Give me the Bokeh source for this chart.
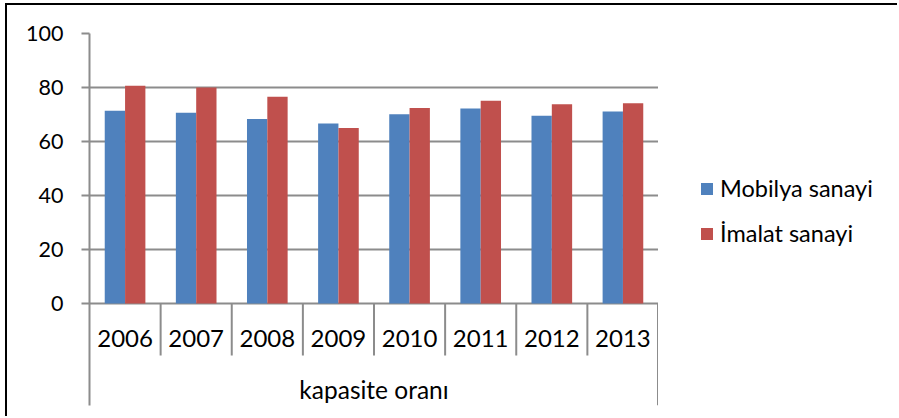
from bokeh.plotting import figure
from bokeh.layouts import row
from bokeh.models import (ColumnDataSource, FactorRange, Range1d, FixedTicker,
                          Legend, LegendItem)
from bokeh.transform import dodge
from bokeh.core.properties import value
from bokeh.embed import file_html
from bokeh.resources import INLINE

# ---- data ----
years = ["2006", "2007", "2008", "2009", "2010", "2011", "2012", "2013"]
mobilya = [71.4, 70.6, 68.3, 66.7, 70.1, 72.2, 69.5, 71.1]
imalat = [80.6, 80.0, 76.6, 65.0, 72.4, 75.1, 73.8, 74.2]
series_names = ["Mobilya sanayi", "İmalat sanayi"]
group_label = "kapasite oranı"
y_ticks = [0, 20, 40, 60, 80, 100]

# ---- style ----
BLUE = "#4F81BD"
RED = "#C0504D"
GRAY = "#8C8C8C"
FONT = "Lato"

src = ColumnDataSource(dict(year=years, mob=mobilya, ima=imalat))

x_range = FactorRange(*years, factor_padding=0, range_padding=0)
p = figure(width=651, height=413, x_range=x_range, y_range=Range1d(-37.8, 100),
           output_backend="svg", toolbar_location=None, x_axis_location=None,
           min_border_left=82, min_border_right=0, min_border_top=28,
           min_border_bottom=13)
p.outline_line_color = None
p.background_fill_color = "white"
p.border_fill_color = "white"
p.xgrid.visible = False
p.ygrid.ticker = FixedTicker(ticks=y_ticks)
p.ygrid.grid_line_color = GRAY
p.ygrid.grid_line_width = 2

yax = p.yaxis[0]
yax.ticker = FixedTicker(ticks=y_ticks)
yax.axis_line_color = GRAY
yax.axis_line_width = 2
yax.major_tick_line_color = GRAY
yax.major_tick_line_width = 2
yax.major_tick_in = 0
yax.major_tick_out = 8
yax.minor_tick_line_color = None
yax.major_label_standoff = 18
yax.major_label_text_font = FONT
yax.major_label_text_font_size = "21.5px"
yax.major_label_text_color = "black"

bw = 1 / 3.5
r1 = p.vbar(x=dodge("year", -bw / 2, range=x_range), top="mob", width=bw,
            bottom=0, source=src, fill_color=BLUE, line_color=None)
r2 = p.vbar(x=dodge("year", bw / 2, range=x_range), top="ima", width=bw,
            bottom=0, source=src, fill_color=RED, line_color=None)

# category separators (boundaries between categories, synthetic coordinates)
n = len(years)
inner = list(range(1, n))
p.segment(x0=inner, y0=[0] * len(inner), x1=inner, y1=[-19.3] * len(inner),
          line_color=GRAY, line_width=2)
p.segment(x0=[n], y0=[0], x1=[n], y1=[-37.8], line_color=GRAY, line_width=3)

# category labels
p.text(x="year", y=-13, text="year", source=src, text_font=value(FONT),
       text_font_size="24px", text_align="center", text_baseline="middle",
       text_color="black")
p.text(x=[n / 2], y=[-32.0], text=[group_label], text_font=value(FONT),
       text_font_size="24.5px", text_align="center", text_baseline="middle",
       text_color="black")

# ---- legend panel (separate figure to the right of the plot area) ----
pl = figure(width=241, height=413, output_backend="svg", toolbar_location=None,
            x_axis_location=None, y_axis_location=None,
            x_range=Range1d(0, 1), y_range=Range1d(0, 1),
            min_border_left=0, min_border_right=0, min_border_top=0,
            min_border_bottom=0)
pl.outline_line_color = None
pl.xgrid.visible = False
pl.ygrid.visible = False
pl.background_fill_color = "white"
pl.border_fill_color = "white"
# legend-key proxies (no visible marks: NaN heights)
nan = float("nan")
k1 = pl.vbar(x=[0.5], top=[nan], bottom=[nan], width=0, fill_color=BLUE,
             line_color=None)
k2 = pl.vbar(x=[0.5], top=[nan], bottom=[nan], width=0, fill_color=RED,
             line_color=None)

legend = Legend(items=[LegendItem(label=series_names[0], renderers=[k1], index=0),
                       LegendItem(label=series_names[1], renderers=[k2], index=0)],
                location=(41, 158), padding=0, margin=0, spacing=17,
                glyph_width=15, glyph_height=15, label_height=26,
                label_standoff=6, border_line_color=None,
                background_fill_alpha=0, label_text_font=FONT,
                label_text_font_size="23.5px", label_text_color="black")
pl.add_layout(legend)

layout = row(p, pl, spacing=0)
layout.margin = (5, 0, 0, 7)
layout.styles = {"box-shadow": "-2px -2px 0 0 black"}

open("out.html", "w").write(file_html(layout, INLINE))
